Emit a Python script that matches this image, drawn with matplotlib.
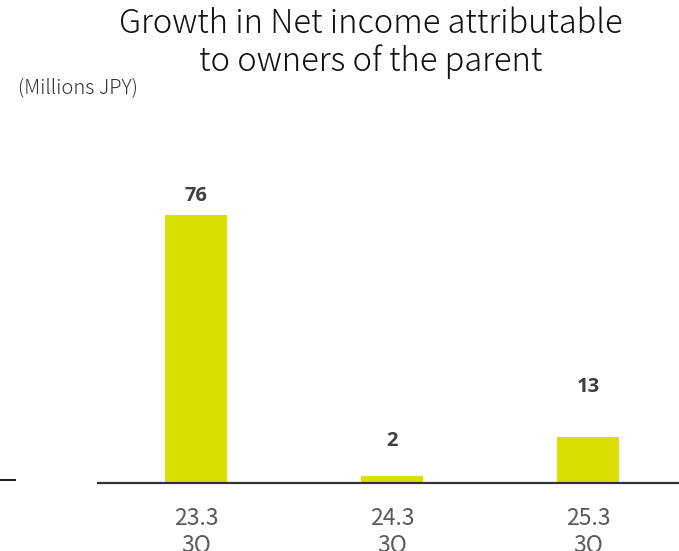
import matplotlib
matplotlib.use("Agg")
import matplotlib.pyplot as plt
from matplotlib.lines import Line2D

categories = ["23.3\n3Q", "24.3\n3Q", "25.3\n3Q"]
values = [76, 2, 13]
value_labels = ["76", "2", "13"]

title = "Growth in Net income attributable\nto owners of the parent"
unit_label = "(Millions JPY)"

W, H = 679, 551
fig = plt.figure(figsize=(W / 100, H / 100), dpi=100)

base_px = 483
px_per_unit = 268 / 76
top_px = 100
ax = fig.add_axes([98 / W, (H - base_px) / H, 1 - 98 / W, (base_px - top_px) / H])
x = list(range(len(categories)))
ax.bar(x, values, width=62 / 196, color="#d9e000", zorder=2)
ax.set_xlim(-0.5, (679 - 196) / 196)
ax.set_ylim(0, (base_px - top_px) / px_per_unit)

for s in ["top", "right", "left"]:
    ax.spines[s].set_visible(False)
ax.spines["bottom"].set_color("#333333")
ax.spines["bottom"].set_linewidth(1.6)
ax.set_yticks([])
ax.set_xticks(x)
ax.set_xticklabels(categories, fontsize=16.5, color="#595959", family="Noto Sans CJK JP",
                   linespacing=1.2)
ax.tick_params(axis="x", length=0, pad=17)

label_offsets_px = [19, 35, 50]
for xi, v, lab, off in zip(x, values, value_labels, label_offsets_px):
    ax.annotate(lab, (xi, v), xytext=(0, off), textcoords="offset pixels",
                ha="center", va="center", fontsize=14.5, fontweight="bold",
                color="#404040", family="Open Sans")

fig.text(371 / W, 1 - 43 / H, title, ha="center", va="center", fontsize=23.5,
         family="Noto Sans CJK JP", fontweight="light", color="#111111", linespacing=1.12)
fig.text(18 / W, 1 - 89 / H, unit_label, ha="left", va="center", fontsize=14.5,
         family="Noto Sans CJK JP", fontweight="light", color="#333333")

fig.add_artist(Line2D([0, 15 / W], [1 - 480 / H, 1 - 480 / H], color="#222222",
                      linewidth=1.5, transform=fig.transFigure))

fig.savefig("out.png", dpi=100)
